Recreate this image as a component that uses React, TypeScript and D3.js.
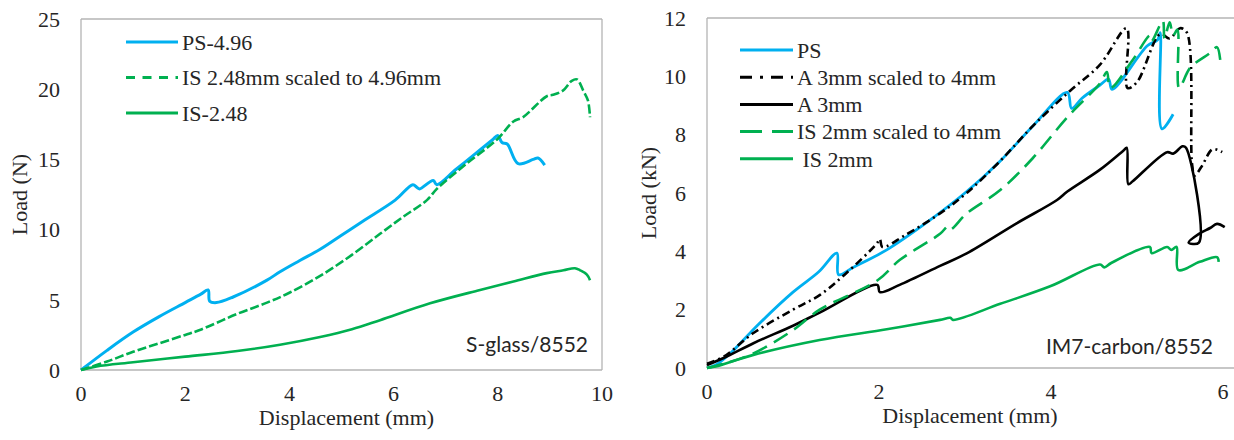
import React from "react";
import * as d3 from "d3";

// ---------- Left panel: S-glass/8552 ----------
const leftXTicks = [0, 2, 4, 6, 8, 10];
const leftYTicks = [0, 5, 10, 15, 20, 25];

const ps496: [number, number][] = [
  [0, 0], [0.5, 1.4], [1, 2.7], [1.5, 3.8], [2, 4.8], [2.3, 5.4], [2.44, 5.7], [2.47, 4.9], [2.6, 4.8],
  [2.92, 5.2], [3.57, 6.4], [3.82, 7.0], [4.2, 7.8], [4.59, 8.6], [5.0, 9.6], [5.41, 10.6], [6.03, 12.1],
  [6.37, 13.2], [6.45, 13.0], [6.5, 12.9], [6.76, 13.5], [6.83, 13.2], [7.2, 14.3], [7.6, 15.5], [7.9, 16.4],
  [8.0, 16.7], [8.08, 16.2], [8.18, 16.1], [8.39, 14.7], [8.68, 15.0], [8.77, 15.1], [8.9, 14.6],
];
const is248Scaled: [number, number][] = [
  [0, 0], [0.5, 0.6], [1, 1.3], [1.5, 1.9], [2, 2.5], [2.28, 2.85], [3, 4.0], [3.57, 4.8], [4, 5.5],
  [4.59, 6.7], [5.2, 8.2], [5.74, 9.7], [6.18, 10.9], [6.64, 12.1], [6.83, 12.9], [7.4, 14.7],
  [7.98, 16.4], [8.3, 17.7], [8.48, 18.0], [8.94, 19.5], [9.06, 19.6], [9.25, 19.9], [9.42, 20.6], [9.52, 20.7],
  [9.64, 19.9], [9.73, 19.2], [9.77, 18.0],
];
const is248: [number, number][] = [
  [0, 0], [0.3, 0.25], [1, 0.55], [2, 0.95], [3, 1.35], [3.82, 1.8], [4.59, 2.35], [5.2, 2.9], [5.74, 3.55],
  [6.7, 4.75], [7.66, 5.7], [8.3, 6.3], [8.94, 6.9], [9.26, 7.1], [9.48, 7.25], [9.58, 7.1], [9.71, 6.8], [9.77, 6.4],
];

// ---------- Right panel: IM7-carbon/8552 ----------
const rightXTicks = [0, 2, 4, 6];
const rightYTicks = [0, 2, 4, 6, 8, 10, 12];

const psRight: [number, number][] = [
  [0, 0], [0.1, 0.1], [0.27, 0.5], [0.6, 1.5], [1.0, 2.6], [1.3, 3.3], [1.51, 3.94], [1.53, 3.2], [1.7, 3.45],
  [2.09, 4.05], [2.56, 5.0], [3.02, 6.05], [3.41, 7.1], [3.79, 8.3], [4.19, 9.45], [4.24, 8.9], [4.36, 9.25],
  [4.57, 9.7], [4.67, 9.9], [4.71, 9.55], [5.12, 11.05], [5.24, 11.25], [5.27, 11.5], [5.29, 8.2], [5.42, 8.7],
];
const a3Scaled: [number, number][] = [
  [0, 0.15], [0.2, 0.4], [0.54, 1.2], [1.0, 2.0], [1.31, 2.5], [1.6, 3.2], [1.97, 4.25], [2.01, 4.42], [2.04, 4.15],
  [2.3, 4.55], [2.71, 5.3], [3.02, 6.0], [3.41, 7.1], [3.79, 8.3], [4.22, 9.5], [4.57, 10.4], [4.88, 11.65],
  [4.89, 9.6], [5.0, 9.8], [5.27, 11.45], [5.38, 11.3], [5.5, 11.65], [5.58, 11.5], [5.64, 7.0], [5.67, 6.6],
  [5.75, 6.9], [5.88, 7.5], [5.99, 7.4],
];
const a3: [number, number][] = [
  [0, 0.1], [0.2, 0.35], [0.54, 0.85], [1.0, 1.45], [1.31, 1.9], [1.98, 2.85], [2.01, 2.6], [2.24, 2.85],
  [2.71, 3.5], [3.02, 3.93], [3.6, 4.96], [4.07, 5.76], [4.19, 6.05], [4.57, 6.8], [4.84, 7.45], [4.88, 7.55],
  [4.9, 6.3], [4.95, 6.4], [5.35, 7.4], [5.42, 7.35], [5.53, 7.6], [5.57, 7.55], [5.72, 4.3], [5.6, 4.3],
  [5.72, 4.6], [5.85, 4.8], [5.93, 4.94], [6.02, 4.83],
];
const is2Scaled: [number, number][] = [
  [0, 0], [0.2, 0.15], [0.54, 0.5], [1.0, 1.3], [1.31, 2.0], [1.98, 3.0], [2.24, 3.7], [2.71, 4.6], [2.8, 4.85],
  [2.83, 4.75], [3.02, 5.3], [3.41, 6.1], [3.79, 7.2], [4.19, 8.6], [4.57, 9.76], [4.65, 10.15], [4.69, 9.6],
  [4.95, 10.56], [5.15, 11.4], [5.17, 11.2], [5.3, 11.9], [5.32, 11.3], [5.38, 11.85], [5.42, 11.4], [5.47, 11.6],
  [5.49, 9.6], [5.62, 10.3], [5.85, 10.8], [5.93, 11.0], [5.97, 10.5],
];
const is2: [number, number][] = [
  [0, 0], [0.1, 0.05], [0.54, 0.45], [1.31, 0.96], [2.09, 1.33], [2.71, 1.65], [2.83, 1.72], [2.86, 1.65],
  [3.41, 2.2], [3.99, 2.8], [4.57, 3.55], [4.62, 3.45], [4.7, 3.6], [5.15, 4.15], [5.17, 3.94], [5.35, 4.15],
  [5.4, 4.05], [5.46, 4.15], [5.48, 3.36], [5.73, 3.64], [5.93, 3.8], [5.95, 3.64],
];

const BLUE = "#00B0F0";
const GREEN = "#00B050";
const BLACK = "#000000";
const AXIS = "#b4b4b4";
const TXT = "#262626";
const SERIF = "Liberation Serif";
const SANS = "Lato";

type Series = {
  name: string;
  data: [number, number][];
  color: string;
  width: number;
  dash?: string;
  legendDash?: string;
};

const leftSeries: Series[] = [
  { name: "PS-4.96", data: ps496, color: BLUE, width: 3 },
  { name: "IS 2.48mm scaled to 4.96mm", data: is248Scaled, color: GREEN, width: 2.6, dash: "9,3", legendDash: "9,7.5" },
  { name: "IS-2.48", data: is248, color: GREEN, width: 2.6 },
];

const rightSeries: Series[] = [
  { name: "PS", data: psRight, color: BLUE, width: 2.8 },
  { name: "A 3mm scaled to 4mm", data: a3Scaled, color: BLACK, width: 2.6, dash: "8,4,2,4", legendDash: "12,8,3,8" },
  { name: "A 3mm", data: a3, color: BLACK, width: 2.6 },
  { name: "IS 2mm scaled to 4mm", data: is2Scaled, color: GREEN, width: 2.6, dash: "16,8", legendDash: "22,10" },
  { name: " IS 2mm", data: is2, color: GREEN, width: 2.6 },
];

type PanelProps = {
  x0: number; x1: number; y0: number; y1: number;
  xMax: number; yMax: number;
  xTicks: number[]; yTicks: number[];
  series: Series[];
  yTitle: string; yTitleX: number;
  legendX: number; legendY: number; legendStep: number; legendLen: number;
  label: string; labelX: number; labelY: number;
  frameRight: boolean; frameX1: number;
};

const serifStyle: React.CSSProperties = { fontFamily: SERIF, fontSize: "22px", whiteSpace: "pre" };
const sansStyle: React.CSSProperties = { fontFamily: SANS, fontSize: "21px" };

function Panel(p: PanelProps) {
  const x = d3.scaleLinear().domain([0, p.xMax]).range([p.x0, p.x1]);
  const y = d3.scaleLinear().domain([0, p.yMax]).range([p.y1, p.y0]);
  const line = d3
    .line<[number, number]>()
    .x((d) => x(d[0]))
    .y((d) => y(d[1]))
    .curve(d3.curveCatmullRom.alpha(0.5));
  const fx1 = p.frameX1;
  return (
    <g>
      <line x1={p.x0} x2={fx1} y1={p.y0} y2={p.y0} stroke={AXIS} strokeWidth={1.3} />
      <line x1={p.x0} x2={fx1} y1={p.y1} y2={p.y1} stroke={AXIS} strokeWidth={1.3} />
      <line x1={p.x0} x2={p.x0} y1={p.y0} y2={p.y1} stroke={AXIS} strokeWidth={1.3} />
      {p.frameRight && <line x1={fx1} x2={fx1} y1={p.y0} y2={p.y1} stroke={AXIS} strokeWidth={1.3} />}
      {p.yTicks.map((t) => (
        <text key={"y" + t} x={p.x0 - 21} y={y(t)} dy="0.35em" textAnchor="end" style={serifStyle} fill={TXT}>
          {t}
        </text>
      ))}
      {p.xTicks.map((t) => (
        <text key={"x" + t} x={x(t)} y={p.y1 + 31} textAnchor="middle" style={serifStyle} fill={TXT}>
          {t}
        </text>
      ))}
      <text x={(p.x0 + p.x1) / 2 + 5} y={p.y1 + 55} textAnchor="middle" style={serifStyle} fill={TXT}>
        Displacement (mm)
      </text>
      <text
        transform={`translate(${p.yTitleX},${(p.y0 + p.y1) / 2}) rotate(-90)`}
        dy="0.35em"
        textAnchor="middle"
        style={serifStyle}
        fill={TXT}
      >
        {p.yTitle}
      </text>
      {p.series.map((s, i) => (
        <path
          key={"s" + i}
          d={line(s.data) || ""}
          fill="none"
          stroke={s.color}
          strokeWidth={s.width}
          strokeDasharray={s.dash}
          strokeLinejoin="round"
        />
      ))}
      {p.series.map((s, i) => {
        const ly = p.legendY + i * p.legendStep;
        return (
          <g key={"l" + i}>
            <line
              x1={p.legendX}
              x2={p.legendX + p.legendLen}
              y1={ly}
              y2={ly}
              stroke={s.color}
              strokeWidth={3}
              strokeDasharray={s.legendDash}
            />
            <text x={p.legendX + p.legendLen + 4} y={ly} dy="0.35em" style={serifStyle} fill={TXT}>
              {s.name}
            </text>
          </g>
        );
      })}
      <text x={p.labelX} y={p.labelY} textAnchor="end" style={sansStyle} fill={TXT}>
        {p.label}
      </text>
    </g>
  );
}

export default function App() {
  return (
    <svg width={1234} height={440} style={{ position: "absolute", left: 0, top: 0, background: "#fff" }}>
      <rect x={0} y={0} width={1234} height={440} fill="#fff" />
      <Panel
        x0={81} x1={602} y0={19} y1={370}
        xMax={10} yMax={25}
        xTicks={leftXTicks} yTicks={leftYTicks}
        series={leftSeries}
        yTitle="Load (N)" yTitleX={19}
        legendX={126} legendY={42} legendStep={35.5} legendLen={52}
        label="S-glass/8552" labelX={588} labelY={352}
        frameRight={true} frameX1={602}
      />
      <Panel
        x0={707} x1={1223} y0={18} y1={368}
        xMax={6} yMax={12}
        xTicks={rightXTicks} yTicks={rightYTicks}
        series={rightSeries}
        yTitle="Load (kN)" yTitleX={648}
        legendX={740} legendY={50} legendStep={27.2} legendLen={53}
        label="IM7-carbon/8552" labelX={1213} labelY={354}
        frameRight={false} frameX1={1234}
      />
    </svg>
  );
}
